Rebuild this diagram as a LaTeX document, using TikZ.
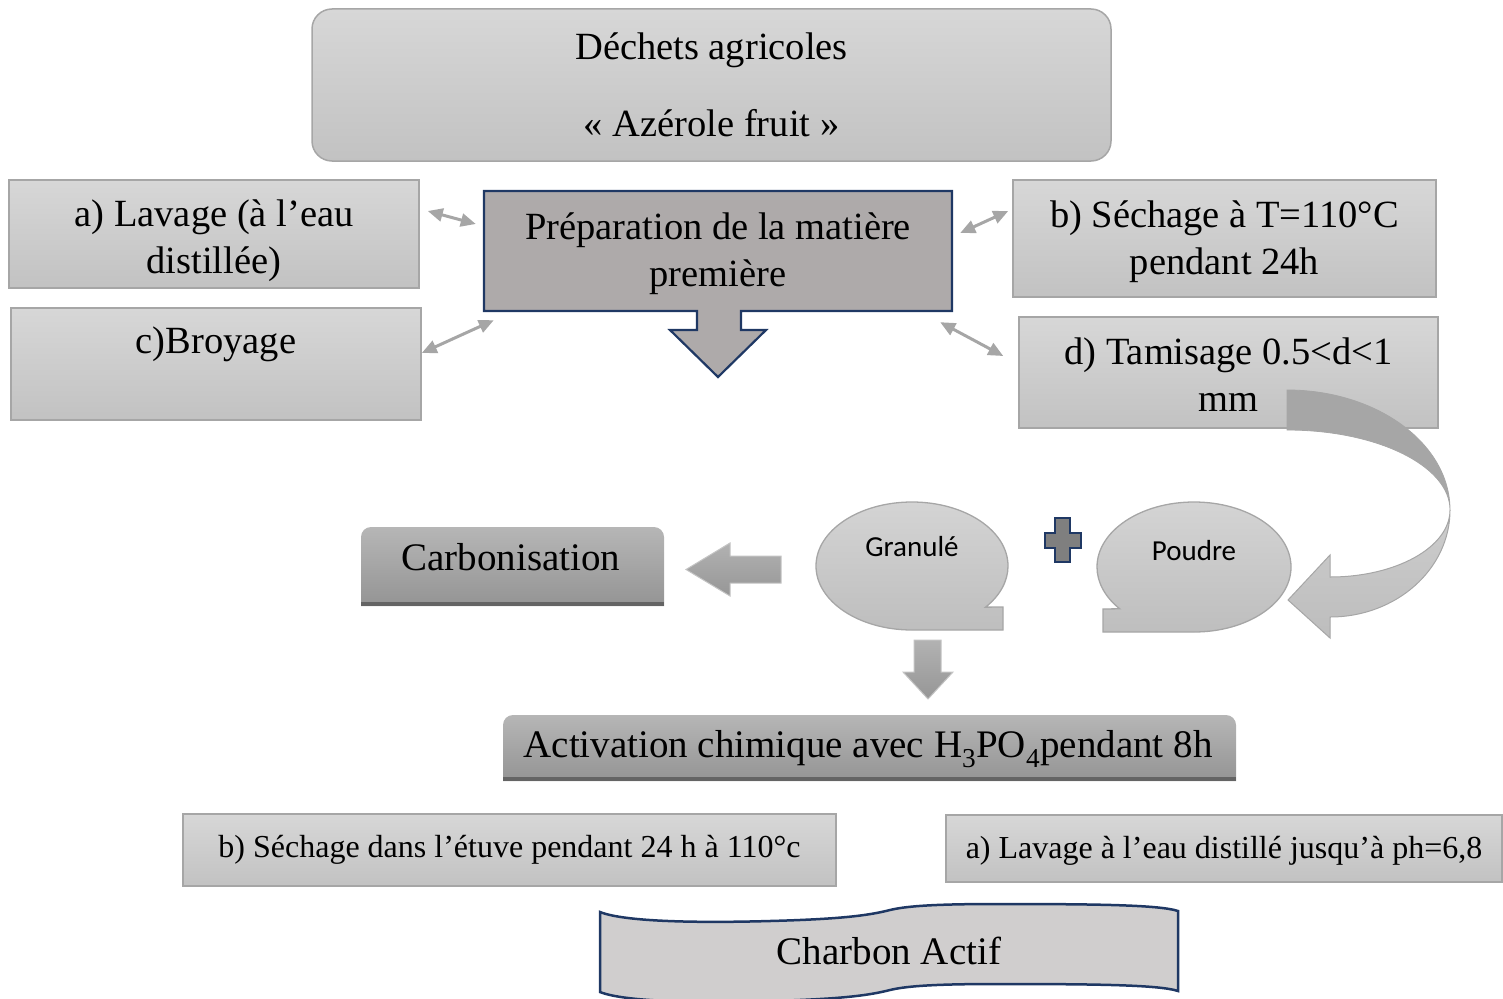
\documentclass[tikz,border=0pt]{standalone}
\usepackage{fontspec}
\setmainfont{Liberation Serif}
\newfontfamily\calib{Carlito}
\usetikzlibrary{arrows.meta,calc}
\definecolor{gtop}{HTML}{D7D7D7}
\definecolor{gbot}{HTML}{C2C2C2}
\definecolor{bord}{HTML}{A6A6A6}
\definecolor{prepfill}{HTML}{AEAAAA}
\definecolor{navyc}{HTML}{1F3864}
\definecolor{agray}{HTML}{A6A6A6}
\definecolor{btop}{HTML}{D4D4D4}
\definecolor{bbot}{HTML}{BEBEBE}
\definecolor{dtop}{HTML}{B6B6B6}
\definecolor{dbot}{HTML}{949494}
\definecolor{dkline}{HTML}{646464}
\definecolor{atop}{HTML}{B2B2B2}
\definecolor{abot}{HTML}{969696}
\definecolor{abord}{HTML}{C4C4C4}
\definecolor{charbfill}{HTML}{D0CECE}
\definecolor{plusfill}{HTML}{7F7F7F}
\definecolor{cupper}{HTML}{A6A6A6}
\definecolor{clowtop}{HTML}{CDCDCD}
\definecolor{clowbot}{HTML}{BDBDBD}
\tikzset{
 lbox/.style={draw=bord, line width=1.5pt, top color=gtop, bottom color=gbot, inner sep=0pt, align=center, font=\fontsize{38.5}{47}\selectfont},
 sbox/.style={lbox, font=\fontsize{32}{40}\selectfont},
 txt/.style={inner sep=0pt, align=center, font=\fontsize{38.5}{47}\selectfont},
 btxt/.style={inner sep=0pt, font=\calib\fontsize{29}{34}\selectfont},
 dbl/.style={draw=agray, line width=3pt, {Triangle[length=15pt,width=13pt]}-{Triangle[length=15pt,width=13pt]}},
 bubble/.style={draw=bord, line width=1.3pt, top color=btop, bottom color=bbot},
 darkbox/.style={top color=dtop, bottom color=dbot},
 blockarrow/.style={draw=abord, line width=1pt, top color=atop, bottom color=abot},
 navyline/.style={draw=navyc, line width=2.2pt}
}
\begin{document}
\begin{tikzpicture}[x=1pt,y=-1pt]
\useasboundingbox (0,0) rectangle (1503,998);
\clip (0,0) rectangle (1503,998);

% top box
\node[lbox, rounded corners=20pt, minimum width=799pt, minimum height=152pt] (src) at (711.5,85)
  {Déchets agricoles\\[30pt]« Azérole fruit »};

% side boxes
\node[lbox, minimum width=410pt, minimum height=108pt,
  label={[txt, yshift=-7pt]center:{a) Lavage (à l’eau\\distillée)}}] (lav) at (214,234) {};
\node[lbox, minimum width=410pt, minimum height=112pt,
  label={[txt, yshift=-4pt]center:{c)Broyage\\\phantom{g}}}] (broy) at (216,364) {};
\node[lbox, minimum width=423pt, minimum height=117pt,
  label={[txt, yshift=-3pt]center:{b) Séchage à T=110°C\\pendant 24h}}] (sech) at (1224.5,238.5) {};
\node[lbox, minimum width=419pt, minimum height=111pt,
  label={[txt, yshift=-2pt]center:{d) Tamisage 0.5<d<1\\mm}}] (tam) at (1228.5,372.5) {};

% preparation box with down arrow
\path[navyline, fill=prepfill] (484,191) -- (952,191) -- (952,311) -- (741,311) -- (741,330) -- (766,330)
  -- (718,377) -- (670,330) -- (697,330) -- (697,311) -- (484,311) -- cycle;
\node[txt, minimum width=468pt, minimum height=120pt] (prep) at (718,254) {Préparation de la matière\\première};

% double arrows
\draw[dbl] ($(lav.east)+(8,-23)$) -- ($(prep.west)+(-8,-30)$);
\draw[dbl] ($(broy.east)+(0,-11)$) -- ($(prep.south west)+(10,6)$);
\draw[dbl] ($(sech.west)+(-4,-27.5)$) -- ($(prep.east)+(8,-21)$);
\draw[dbl] ($(tam.west)+(-15,-16.5)$) -- ($(prep.south east)+(-12,8)$);

% curved arrow from tamisage to poudre
\path[fill=cupper, draw=cupper, line width=0.8pt] (1287,390) -- (1287,430)
  arc[start angle=-90, end angle=0, x radius=163, y radius=80]
  arc[start angle=0, end angle=-90, x radius=163, y radius=120] -- cycle;
\path[draw=bord, line width=1pt, top color=clowtop, bottom color=clowbot] (1450,510)
  arc[start angle=0, end angle=90, x radius=120, y radius=107]
  -- (1330,638) -- (1288,600) -- (1330,555) -- (1330,577)
  arc[start angle=90, end angle=0, x radius=120, y radius=67] -- cycle;

% bubbles
\path[bubble] (912,630) arc[start angle=90, end angle=400, x radius=96, y radius=64]
  -- (1003,607) -- (1003,630) -- cycle;
\node[btxt] (gran) at (912,547) {Granulé};
\path[bubble] (1194,632) arc[start angle=90, end angle=-220, x radius=97, y radius=65]
  -- (1103,609) -- (1103,632) -- cycle;
\node[btxt] (poud) at (1194,551) {Poudre};

% plus sign
\path[navyline, line width=2pt, fill=plusfill] (1055,518) -- (1070,518) -- (1070,533) -- (1081,533) -- (1081,548)
  -- (1070,548) -- (1070,562) -- (1055,562) -- (1055,548) -- (1045,548) -- (1045,533) -- (1055,533) -- cycle;

% left arrow to carbonisation
\path[blockarrow] (781,556) -- (730,556) -- (730,543) -- (686,569.5) -- (730,596) -- (730,583) -- (781,583) -- cycle;

% carbonisation
\path[darkbox] (361,606) -- (361,537) arc[start angle=180, end angle=270, radius=10] -- (654,527)
  arc[start angle=270, end angle=360, radius=10] -- (664,606) -- cycle;
\draw[dkline, line width=4pt] (361,604) -- (664,604);
\node[txt, font=\fontsize{39}{47}\selectfont] (carb) at (511,557) {Carbonisation};

% down arrow to activation
\path[blockarrow] (914,640) -- (941,640) -- (941,672) -- (953,672) -- (928,699) -- (903,672) -- (914,672) -- cycle;

% activation
\path[darkbox] (503,781) -- (503,725) arc[start angle=180, end angle=270, radius=10] -- (1226,715)
  arc[start angle=270, end angle=360, radius=10] -- (1236,781) -- cycle;
\draw[dkline, line width=4pt] (503,779) -- (1236,779);
\node[txt, font=\fontsize{39}{47}\selectfont] (act) at (868,749) {Activation chimique avec H\textsubscript{3}PO\textsubscript{4}pendant 8h};

% bottom boxes
\node[sbox, minimum width=653pt, minimum height=72pt] (sech2) at (509.5,850) {b) Séchage dans l’étuve pendant 24 h à 110°c};
\node[sbox, minimum width=556pt, minimum height=67pt,
  label={[inner sep=0pt, font=\fontsize{32}{40}\selectfont, yshift=-2pt]center:{a) Lavage à l’eau distillé jusqu’à ph=6,8}}] (lav2) at (1224,848.5) {};

% charbon actif
\path[navyline, line width=2.5pt, fill=charbfill] (600,912) .. controls (625,922) and (700,923) .. (770,921)
  .. controls (845,919) and (870,915) .. (890,910) .. controls (910,905) and (950,904) .. (1000,904)
  .. controls (1100,904) and (1160,905) .. (1178,911) -- (1178,991)
  .. controls (1160,985) and (1100,984) .. (1000,984) .. controls (950,984) and (910,985) .. (890,990)
  .. controls (870,995) and (845,999) .. (770,1001) .. controls (700,1003) and (625,1002) .. (600,992) -- cycle;
\node[txt, font=\fontsize{39}{47}\selectfont] (charb) at (889,951) {Charbon Actif};
\end{tikzpicture}
\end{document}
